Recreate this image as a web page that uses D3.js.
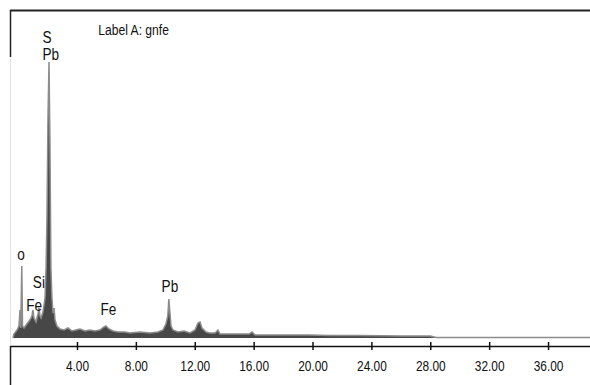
<!DOCTYPE html>
<html><head><meta charset="utf-8">
<script src="https://cdn.jsdelivr.net/npm/d3@7/dist/d3.min.js"></script>
<style>
body{margin:0;background:#fff;}
text{font-family:'Liberation Sans',Arial,sans-serif;fill:#111;}
</style></head>
<body><svg id="c" width="590" height="385"></svg>
<script>
// Energy (keV) and counts
const energy = [-0.35,-0.28,-0.07,0.06,0.13,0.18,0.25,0.3,0.4,0.6,0.8,0.94,1.01,1.08,1.22,1.35,1.42,1.49,1.56,1.69,1.83,1.9,1.96,2.03,2.1,2.16,2.23,2.3,2.37,2.44,2.51,2.64,2.85,3.12,3.39,3.66,3.93,4.2,4.55,4.88,5.22,5.56,5.83,5.97,6.17,6.45,6.79,7.26,7.6,8.28,8.96,9.5,9.84,10.04,10.17,10.24,10.32,10.39,10.52,10.86,11.27,11.68,12.02,12.22,12.36,12.49,12.77,13.0,13.38,13.58,13.71,14.4,15.07,15.7,15.89,16.1,17.1,18.1,19.1,19.8,21.2,23.2,26.0,28.0,28.4,38.85];
const counts = [0,4,8,12,28,10,72,12,10,14,18,22,28,20,16,24,30,22,20,26,40,70,120,220,276,200,70,40,25,30,18,12,9,8,10,7,8,9,7,8,7,8,11,12,9,7,6,6,5,6,5,6,8,14,22,39,24,12,8,6,7,5,8,15,16,10,6,5,5,8,4,4,4,4,6,3,3,3,3,3,2.5,2.5,2,2,0.5,0.5];
const tickValues = [4,8,12,16,20,24,28,32,36];
const peakLabels = ["Label A: gnfe","S","Pb","o","Si","Fe","Fe","Pb"];
const peakLabelEnergy = [5.45,1.65,1.65,-0.05,1.0,0.55,5.6,9.75];
const peakLabelCount = [303,295,278,78,50,27,23,46.5];
const peakLabelSize = [15.5,16,16,16,16,16,16,16];

const data = energy.map((e,i)=>({e, c:counts[i]}));
const svg = d3.select("#c");
const x = d3.scaleLinear().domain([-0.55, 38.85]).range([10, 590]);
const y = d3.scaleLinear().domain([0, 330]).range([338, 8]);

function narrow(sel, f){
  sel.each(function(){
    const L = this.getComputedTextLength();
    d3.select(this).attr("textLength", L*f).attr("lengthAdjust","spacingAndGlyphs");
  });
}

// frame
svg.append("line").attr("x1",10).attr("x2",590).attr("y1",10.5).attr("y2",10.5).attr("stroke","#222").attr("stroke-width",2);
svg.append("line").attr("x1",10.5).attr("x2",10.5).attr("y1",10).attr("y2",57).attr("stroke","#222").attr("stroke-width",1.5);
svg.append("line").attr("x1",10.5).attr("x2",10.5).attr("y1",57).attr("y2",346).attr("stroke","#e4e4e4").attr("stroke-width",1);
svg.append("line").attr("x1",10.5).attr("x2",10.5).attr("y1",346).attr("y2",385).attr("stroke","#222").attr("stroke-width",1.5);

// spectrum
const area = d3.area().x(d=>x(d.e)).y0(y(0)).y1(d=>y(d.c));
const line = d3.line().x(d=>x(d.e)).y(d=>y(d.c));
svg.append("path").datum(data).attr("d",area).attr("fill","#474747");
svg.append("path").datum(data).attr("d",line).attr("fill","none").attr("stroke","#8c8c8c").attr("stroke-width",1.5);

// axis
const axis = d3.axisBottom(x).tickValues(tickValues).tickFormat(d3.format(".2f")).tickSizeOuter(0).tickSizeInner(4);
const g = svg.append("g").attr("transform","translate(0,346)").call(axis);
g.select(".domain").attr("stroke","#111").attr("stroke-width",1.5);
g.selectAll(".tick line").attr("y1",-4).attr("y2",4).attr("stroke","#111").attr("stroke-width",1.5);
const tt = g.selectAll(".tick text").attr("y",25).attr("dy",0).attr("font-size",14.5).attr("fill","#111")
  .style("font-family","'Liberation Sans',Arial,sans-serif");
narrow(tt, 0.82);

// labels
peakLabels.forEach((t,i)=>{
  const el = svg.append("text").attr("x",x(peakLabelEnergy[i])).attr("y",y(peakLabelCount[i]))
    .attr("font-size",peakLabelSize[i]).text(t);
  narrow(el, i===0 ? 0.78 : 0.85);
});
</script></body></html>
